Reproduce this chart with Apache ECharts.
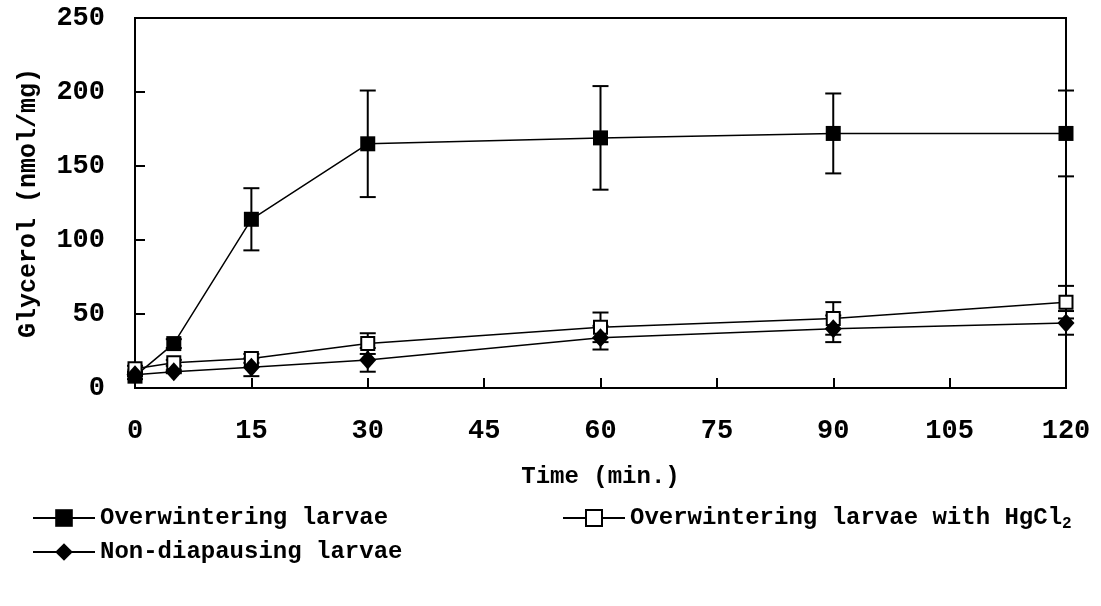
<!DOCTYPE html>
<html>
<head>
<meta charset="utf-8">
<script src="https://cdn.jsdelivr.net/npm/echarts@6/dist/echarts.min.js"></script>
<style>
  html, body { margin: 0; padding: 0; background: #fff; }
  #main { width: 1101px; height: 606px; }
</style>
</head>
<body>
<div id="main"></div>
<script>
// time points (min.)
var times = [0, 5, 15, 30, 60, 90, 120];
// glycerol (nmol/mg) and error bars
var overwintering = [8, 30, 114, 165, 169, 172, 172];
var overwinteringErr = [2, 3, 21, 36, 35, 27, 29];
var withHgCl2 = [13, 17, 20, 30, 41, 47, 58];
var withHgCl2Err = [2, 2, 3, 7, 10, 11, 11];
var nonDiapausing = [9, 11, 14, 19, 34, 40, 44];
var nonDiapausingErr = [1, 1, 6, 8, 8, 9, 8];

var FONT = 'Liberation Mono';
var NAME_OW = 'Overwintering larvae';
var NAME_HG = 'Overwintering larvae with HgCl2';
var NAME_ND = 'Non-diapausing larvae';

function pairs(ys) {
    return times.map(function (t, i) { return [t, ys[i]]; });
}
function errData(ys, es) {
    return times.map(function (t, i) { return [t, ys[i], es[i]]; });
}

function renderErr(params, api) {
    var x = api.value(0), y = api.value(1), e = api.value(2);
    var top = api.coord([x, y + e]);
    var bot = api.coord([x, y - e]);
    var hw = 8;
    var st = { stroke: '#000', lineWidth: 2 };
    return {
        type: 'group',
        children: [
            { type: 'line', shape: { x1: top[0], y1: top[1], x2: bot[0], y2: bot[1] }, style: st },
            { type: 'line', shape: { x1: top[0] - hw, y1: top[1], x2: top[0] + hw, y2: top[1] }, style: st },
            { type: 'line', shape: { x1: bot[0] - hw, y1: bot[1], x2: bot[0] + hw, y2: bot[1] }, style: st }
        ]
    };
}

function errSeries(ys, es) {
    return {
        type: 'custom',
        renderItem: renderErr,
        data: errData(ys, es),
        encode: { x: 0, y: 1 },
        z: 1,
        silent: true
    };
}

var legendText = {
    fontFamily: FONT,
    fontWeight: 'bold',
    fontSize: 24,
    color: '#000',
    lineHeight: 26,
    rich: {
        sub: { fontFamily: FONT, fontWeight: 'bold', fontSize: 16, color: '#000', padding: [12, 0, 0, 0] }
    }
};

var myChart = echarts.init(document.getElementById('main'));
var option = {
    animation: false,
    backgroundColor: '#fff',
    grid: {
        left: 135, right: 35, top: 18, bottom: 218,
        outerBoundsMode: 'none',
        containLabel: false,
        show: true, borderColor: '#000', borderWidth: 2
    },
    legend: [{
        orient: 'vertical',
        left: 27, top: 500,
        itemWidth: 62, itemHeight: 22, itemGap: 8,
        textStyle: legendText,
        data: [NAME_OW, NAME_ND]
    }, {
        orient: 'vertical',
        left: 557, top: 500,
        itemWidth: 62, itemHeight: 20,
        textStyle: legendText,
        formatter: function () { return 'Overwintering larvae with HgCl{sub|2}'; },
        data: [NAME_HG]
    }],
    xAxis: {
        type: 'value',
        min: 0, max: 120, interval: 15,
        name: 'Time (min.)',
        nameLocation: 'middle',
        nameGap: 77,
        nameTextStyle: { fontFamily: FONT, fontWeight: 'bold', fontSize: 24, color: '#000' },
        axisLine: { lineStyle: { color: '#000', width: 2 } },
        axisTick: { inside: true, length: 10, lineStyle: { color: '#000', width: 2 } },
        axisLabel: { margin: 30, fontFamily: FONT, fontWeight: 'bold', fontSize: 27, color: '#000' },
        splitLine: { show: false }
    },
    yAxis: {
        type: 'value',
        min: 0, max: 250, interval: 50,
        name: 'Glycerol (nmol/mg)',
        nameLocation: 'middle',
        nameGap: 94,
        nameTextStyle: { fontFamily: FONT, fontWeight: 'bold', fontSize: 25, color: '#000' },
        axisLine: { lineStyle: { color: '#000', width: 2 } },
        axisTick: { inside: true, length: 10, lineStyle: { color: '#000', width: 2 } },
        axisLabel: { margin: 30, fontFamily: FONT, fontWeight: 'bold', fontSize: 27, color: '#000' },
        splitLine: { show: false }
    },
    series: [
        errSeries(overwintering, overwinteringErr),
        errSeries(withHgCl2, withHgCl2Err),
        errSeries(nonDiapausing, nonDiapausingErr),
        {
            name: NAME_OW,
            type: 'line',
            data: pairs(overwintering),
            symbol: 'rect',
            symbolSize: 15,
            z: 3,
            lineStyle: { color: '#000', width: 1.5 },
            itemStyle: { color: '#000', borderColor: '#000', borderWidth: 0 }
        },
        {
            name: NAME_HG,
            type: 'line',
            data: pairs(withHgCl2),
            symbol: 'rect',
            symbolSize: 13,
            z: 3,
            lineStyle: { color: '#000', width: 1.5 },
            itemStyle: { color: '#fff', borderColor: '#000', borderWidth: 2 }
        },
        {
            name: NAME_ND,
            type: 'line',
            data: pairs(nonDiapausing),
            symbol: 'diamond',
            symbolSize: [17, 19],
            z: 4,
            lineStyle: { color: '#000', width: 1.5 },
            itemStyle: { color: '#000', borderColor: '#000', borderWidth: 0 }
        }
    ]
};
myChart.setOption(option);
</script>
</body>
</html>
